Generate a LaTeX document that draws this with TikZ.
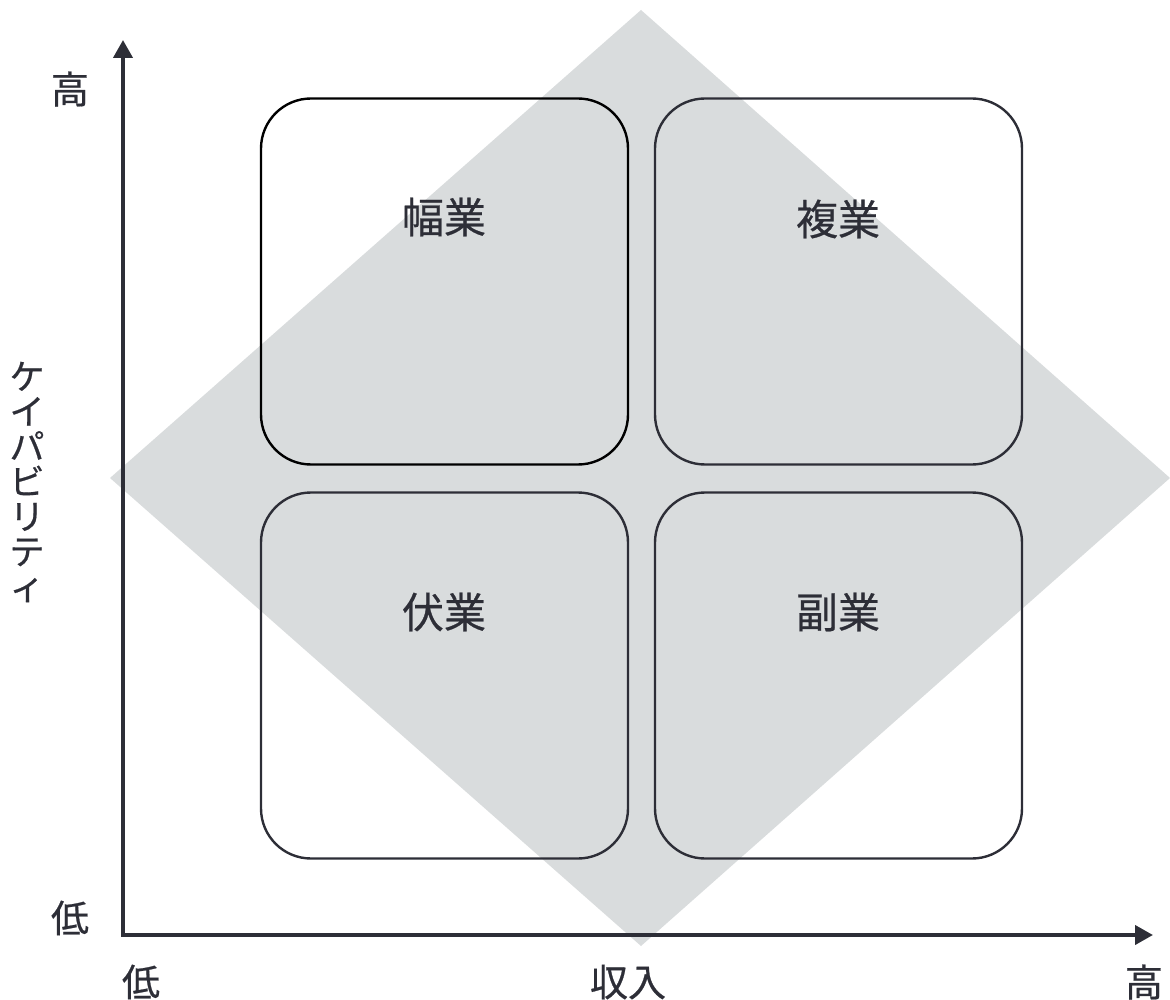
\documentclass[tikz,border=0pt]{standalone}
\usepackage{fontspec}
\newfontfamily\jp[FakeBold=0.6]{Noto Sans CJK JP}
\usetikzlibrary{arrows.meta}
\definecolor{ink}{HTML}{2D2E37}
\definecolor{dia}{HTML}{D9DCDD}
\tikzset{
  quad/.style={draw=ink, line width=2.4pt, rounded corners=50pt, minimum width=367pt, minimum height=366pt, inner sep=0pt},
  qlabel/.style={text=ink, font=\jp\fontsize{42}{46}\selectfont, inner sep=0pt},
  axlabel/.style={text=ink, font=\jp\fontsize{38}{42}\selectfont, inner sep=0pt},
  axis/.style={draw=ink, line width=4pt, -{Triangle[length=18pt,width=19pt]}}
}
\begin{document}
\begin{tikzpicture}[x=1pt,y=-1pt]
\useasboundingbox (0,0) rectangle (1170,1000);
\fill[dia] (641,10) -- (1170,478) -- (641,946) -- (110,478) -- cycle;
\node[quad, draw=black] (tl) at (444.5,281.5) {};
\node[quad] (tr) at (838.5,281.5) {};
\node[quad] (bl) at (444.5,675.5) {};
\node[quad] (br) at (838.5,675.5) {};
\node[qlabel] (tlt) at (444,217) {幅業};
\node[qlabel] (trt) at (838,219) {複業};
\node[qlabel] (blt) at (444,612) {伏業};
\node[qlabel] (brt) at (838,612) {副業};
\coordinate (o) at (123,935);
\coordinate (ytop) at (123,40);
\coordinate (xend) at (1153,935);
\draw[axis, line cap=rect] (o) -- (ytop);
\draw[axis, line cap=rect] (o) -- (xend);
\node[axlabel] (yhi) at (70,89) {高};
\node[axlabel] (ylo) at (70,918) {低};
\node[axlabel] (xlo) at (141,982) {低};
\node[axlabel] (xmid) at (628,982) {収入};
\node[axlabel] (xhi) at (1144,982) {高};
\node[text=ink, font=\jp\fontsize{35}{35}\selectfont, align=center, inner sep=0pt] (ylab) at (27,482) {ケ\\イ\\パ\\ビ\\リ\\テ\\ィ};
\end{tikzpicture}
\end{document}
